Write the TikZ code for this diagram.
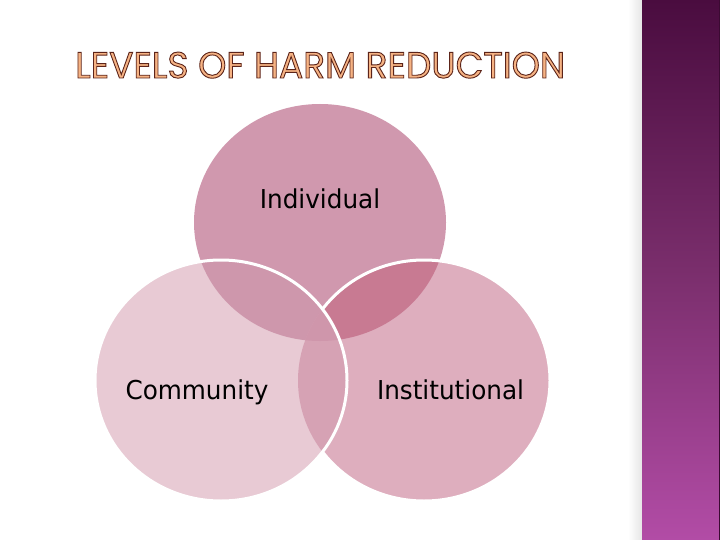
\documentclass[tikz,border=0pt]{standalone}
\usepackage{fontspec}
\setmainfont{DejaVu Sans}
\newfontfamily\titlefont{Poppins}
\usetikzlibrary{shadings}
\definecolor{cInd}{HTML}{D098AE}
\definecolor{cCom}{HTML}{E8CAD4}
\definecolor{cInst}{HTML}{DEAEBE}
\definecolor{cIndInst}{HTML}{C87A92}
\definecolor{cIndCom}{HTML}{CE97AC}
\definecolor{cComInst}{HTML}{D6A2B4}
\definecolor{cTriple}{HTML}{CF96AB}
\definecolor{barTop}{HTML}{4A0C3F}
\definecolor{barMid}{HTML}{7A2E6C}
\definecolor{barBot}{HTML}{B24CA6}
\definecolor{titleFill}{HTML}{F6B384}
\newcommand\IndPath{(320,222.5) ellipse [x radius=126, y radius=118.5]}
\newcommand\ComPath{(221,380.5) ellipse [x radius=126, y radius=120.5]}
\newcommand\InstPath{(424,380.5) ellipse [x radius=126, y radius=120.5]}
\newcommand\outlined[1]{\color{titleFill}\special{pdf:literal direct 0.36 0.14 0.10 RG 2 Tr 0.9 w}#1\special{pdf:literal direct 0 Tr}}
\tikzset{
  label/.style={font=\fontsize{26}{30}\selectfont, text=black, anchor=base, inner sep=0pt},
  rim/.style={draw=white, line width=3pt}
}
\begin{document}
\begin{tikzpicture}[x=1pt,y=-1pt]
\useasboundingbox (0,0) rectangle (720,540);
\fill[white] (0,0) rectangle (720,540);
% shadow left of bar
\shade[left color=white, right color=black!10] (628,0) rectangle (642,540);
% right bar
\shade[top color=barTop, bottom color=barBot, middle color=barMid] (642,0) rectangle (720,540);
\draw[barTop!80!black, line width=1pt] (719.5,0) -- (719.5,540);
% title
\node (title) [anchor=base west, inner sep=0pt] at (75,78)
  {\resizebox{490pt}{26pt}{\titlefont\fontsize{36}{40}\selectfont\outlined{LEVELS OF HARM REDUCTION}}};
% circles
\fill[cInd] \IndPath;
\fill[cInst] \InstPath;
\fill[cCom] \ComPath;
\begin{scope}
  \clip \IndPath;
  \fill[cIndInst] \InstPath;
  \fill[cIndCom] \ComPath;
\end{scope}
\begin{scope}
  \clip \ComPath;
  \fill[cComInst] \InstPath;
  \clip \IndPath;
  \fill[cTriple] \InstPath;
\end{scope}
\begin{scope}[even odd rule]
  \clip (0,0) rectangle (720,540) \ComPath;
  \draw[rim] \InstPath;
\end{scope}
\draw[rim] \ComPath;
% labels
\node (ind) [label] at (320,208) {\scalebox{0.95}[1]{Individual}};
\node (com) [label] at (197,399) {\scalebox{0.95}[1]{Community}};
\node (inst) [label] at (450.5,399) {\scalebox{0.95}[1]{Institutional}};
\end{tikzpicture}
\end{document}
